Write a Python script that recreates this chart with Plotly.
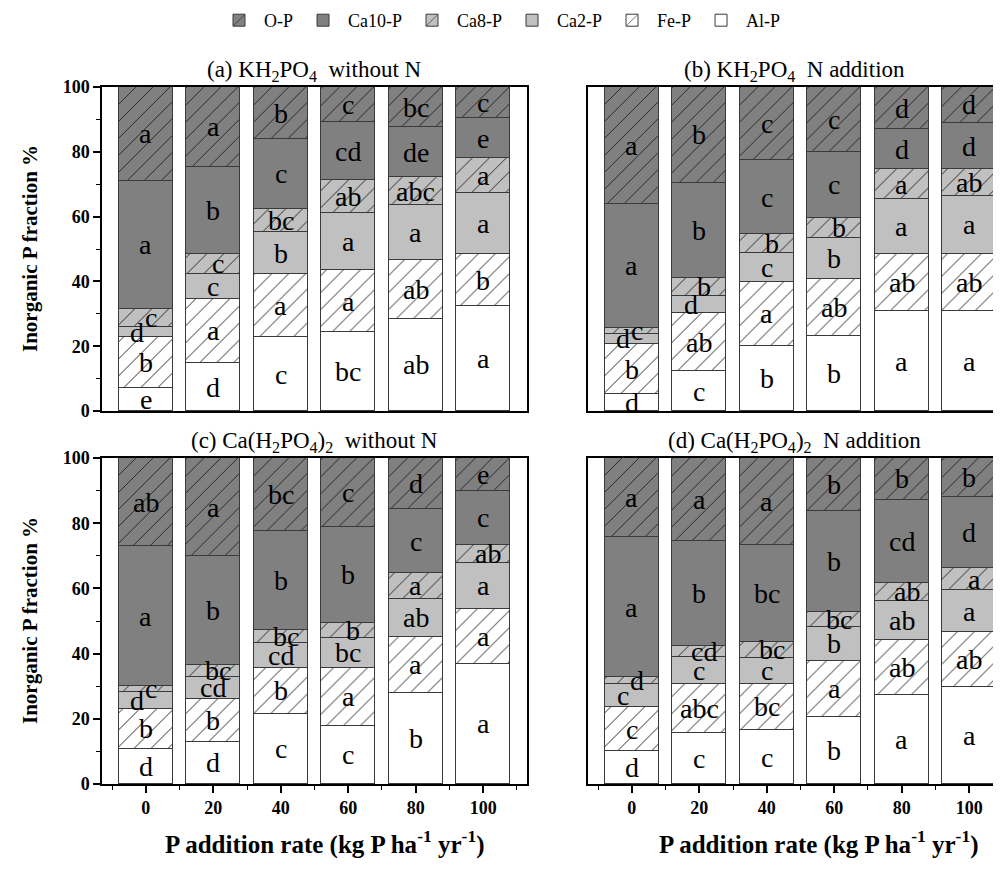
import plotly.graph_objects as go

# ---------------- data ----------------
rates = [0, 20, 40, 60, 80, 100]
fractions = ["Al-P", "Fe-P", "Ca2-P", "Ca8-P", "Ca10-P", "O-P"]  # bottom -> top

# (a) KH2PO4 without N  (segment heights, %)
A_AL = [7.0, 14.8, 22.8, 24.4, 28.5, 32.4]
A_FE = [15.8, 19.8, 19.4, 19.1, 18.1, 16.0]
A_CA2 = [3.1, 7.8, 12.9, 17.7, 16.9, 18.8]
A_CA8 = [5.7, 6.2, 7.4, 10.1, 8.7, 10.8]
A_CA10 = [39.5, 26.8, 21.4, 17.8, 15.4, 12.3]
A_O = [28.9, 24.6, 16.1, 10.9, 12.4, 9.7]
A_L_AL = ["e", "d", "c", "bc", "ab", "a"]
A_L_FE = ["b", "a", "a", "a", "ab", "b"]
A_L_CA2 = ["d", "c", "b", "a", "a", "a"]
A_L_CA8 = ["c", "c", "bc", "ab", "abc", "a"]
A_L_CA10 = ["a", "b", "c", "cd", "de", "e"]
A_L_O = ["a", "a", "b", "c", "bc", "c"]

# (b) KH2PO4 N addition
B_AL = [5.1, 12.3, 20.2, 23.2, 30.8, 30.8]
B_FE = [15.6, 17.9, 19.5, 17.4, 17.8, 17.8]
B_CA2 = [3.1, 5.3, 9.1, 12.7, 16.7, 17.9]
B_CA8 = [1.8, 5.7, 5.7, 6.4, 9.4, 8.1]
B_CA10 = [38.4, 29.2, 23.1, 20.3, 12.3, 14.3]
B_O = [36.0, 29.6, 22.4, 20.0, 13.0, 11.1]
B_L_AL = ["d", "c", "b", "b", "a", "a"]
B_L_FE = ["b", "ab", "a", "ab", "ab", "ab"]
B_L_CA2 = ["d", "d", "c", "b", "a", "a"]
B_L_CA8 = ["c", "b", "b", "b", "a", "ab"]
B_L_CA10 = ["a", "b", "c", "c", "d", "d"]
B_L_O = ["a", "b", "c", "c", "d", "d"]

# (c) Ca(H2PO4)2 without N
C_AL = [10.8, 13.0, 21.5, 17.9, 27.9, 36.9]
C_FE = [12.3, 13.2, 14.2, 17.8, 17.3, 16.9]
C_CA2 = [5.2, 6.6, 7.7, 9.2, 11.7, 14.0]
C_CA8 = [1.8, 3.8, 3.9, 4.6, 7.7, 5.6]
C_CA10 = [42.8, 33.2, 30.2, 29.3, 19.7, 16.5]
C_O = [27.1, 30.2, 22.5, 21.2, 15.7, 10.1]
C_L_AL = ["d", "d", "c", "c", "b", "a"]
C_L_FE = ["b", "b", "b", "a", "a", "a"]
C_L_CA2 = ["d", "cd", "cd", "bc", "ab", "a"]
C_L_CA8 = ["c", "bc", "bc", "b", "a", "ab"]
C_L_CA10 = ["a", "b", "b", "b", "c", "c"]
C_L_O = ["ab", "a", "bc", "c", "d", "e"]

# (d) Ca(H2PO4)2 N addition
D_AL = [10.1, 15.7, 16.5, 20.6, 27.3, 29.8]
D_FE = [13.5, 15.1, 14.3, 17.1, 16.8, 16.7]
D_CA2 = [7.1, 8.3, 8.0, 10.6, 12.1, 13.0]
D_CA8 = [2.0, 3.3, 4.9, 4.5, 5.4, 6.7]
D_CA10 = [43.1, 32.0, 29.7, 31.0, 25.6, 21.7]
D_O = [24.2, 25.6, 26.6, 16.2, 12.8, 12.1]
D_L_AL = ["d", "c", "c", "b", "a", "a"]
D_L_FE = ["c", "abc", "bc", "a", "ab", "ab"]
D_L_CA2 = ["c", "c", "c", "b", "ab", "a"]
D_L_CA8 = ["d", "cd", "bc", "bc", "ab", "a"]
D_L_CA10 = ["a", "b", "bc", "b", "cd", "d"]
D_L_O = ["a", "a", "a", "b", "b", "b"]

panel_titles = [
    "(a) KH<sub>2</sub>PO<sub>4</sub>  without N",
    "(b) KH<sub>2</sub>PO<sub>4</sub>  N addition",
    "(c) Ca(H<sub>2</sub>PO<sub>4</sub>)<sub>2</sub>  without N",
    "(d) Ca(H<sub>2</sub>PO<sub>4</sub>)<sub>2</sub>  N addition",
]
y_title = "Inorganic P fraction %"
x_title = "P addition rate (kg P ha<sup>-1</sup> yr<sup>-1</sup>)"

panels = [
    ([A_AL, A_FE, A_CA2, A_CA8, A_CA10, A_O], [A_L_AL, A_L_FE, A_L_CA2, A_L_CA8, A_L_CA10, A_L_O]),
    ([B_AL, B_FE, B_CA2, B_CA8, B_CA10, B_O], [B_L_AL, B_L_FE, B_L_CA2, B_L_CA8, B_L_CA10, B_L_O]),
    ([C_AL, C_FE, C_CA2, C_CA8, C_CA10, C_O], [C_L_AL, C_L_FE, C_L_CA2, C_L_CA8, C_L_CA10, C_L_O]),
    ([D_AL, D_FE, D_CA2, D_CA8, D_CA10, D_O], [D_L_AL, D_L_FE, D_L_CA2, D_L_CA8, D_L_CA10, D_L_O]),
]

# ---------------- layout geometry ----------------
PAGE_W, PAGE_H = 1001, 876
OFF = 8                      # default body margin of the page
W, H = PAGE_W - 2 * OFF, PAGE_H - 2 * OFF


def px(x):   # page x -> paper fraction
    return (x - OFF) / W


def py(y):   # page y -> paper fraction
    return 1 - (y - OFF) / H


SERIF = "Liberation Serif"
DARK = "#808080"
LIGHT = "#c0c0c0"
styles = {
    "Al-P": dict(bg="white", hatch=False),
    "Fe-P": dict(bg="white", hatch=True),
    "Ca2-P": dict(bg=LIGHT, hatch=False),
    "Ca8-P": dict(bg=LIGHT, hatch=True),
    "Ca10-P": dict(bg=DARK, hatch=False),
    "O-P": dict(bg=DARK, hatch=True),
}

# panel boxes in page pixels (left, right, top, bottom)
boxes = [(102, 527, 87, 411), (588, 1001, 87, 411), (102, 527, 458, 784), (588, 1001, 458, 784)]
UNIT = (527 - 102) / 126.0   # px per x unit
xranges = []
for (l, r, t, b) in boxes:
    rr = min(r, PAGE_W - OFF)
    xranges.append([-13, -13 + (rr - l) / UNIT])

fig = go.Figure()

for p, (vals, labels) in enumerate(panels):
    xa = "x" if p == 0 else f"x{p+1}"
    ya = "y" if p == 0 else f"y{p+1}"
    for f, name in enumerate(fractions):
        st = styles[name]
        marker = dict(color=st["bg"], line=dict(color="#3a3a3a", width=1))
        if st["hatch"]:
            marker["pattern"] = dict(shape="/", fgcolor="#262626", bgcolor=st["bg"],
                                     size=12, solidity=0.08, fillmode="replace")
        fig.add_trace(go.Bar(
            x=rates, y=vals[f], name=name, width=16, marker=marker,
            xaxis=xa, yaxis=ya, legendgroup=name, showlegend=(p == 0),
            hoverinfo="skip",
        ))
    # significance letters
    for i, r in enumerate(rates):
        base = 0.0
        for f, name in enumerate(fractions):
            h = vals[f][i]
            dx = 0.0
            if name == "Ca2-P" and (vals[3][i] < 3 or h < 6):
                dx = -2.6
            if name == "Ca8-P" and h < 7:
                dx = 1.5
            fig.add_annotation(
                x=r + dx, y=base + h / 2, xref=xa, yref=ya, text=labels[f][i],
                showarrow=False, font=dict(family=SERIF, size=28, color="black"),
                xanchor="center", yanchor="middle",
            )
            base += h

axis_common = dict(showgrid=False, zeroline=False, showline=True, linecolor="black",
                   linewidth=1.5, mirror=True, automargin=False)
for p in range(4):
    l, r, t, b = boxes[p]
    xkey = "xaxis" if p == 0 else f"xaxis{p+1}"
    ykey = "yaxis" if p == 0 else f"yaxis{p+1}"
    bottom_row = p >= 2
    left_col = p % 2 == 0
    fig.update_layout({
        xkey: dict(axis_common, domain=[px(l), min(px(r), 1)], range=xranges[p],
                   anchor="y" if p == 0 else f"y{p+1}",
                   tickvals=rates, ticktext=[str(v) for v in rates],
                   ticks="outside" if bottom_row else "", ticklen=7, tickwidth=1.5,
                   tickcolor="black",
                   showticklabels=bottom_row,
                   tickfont=dict(family=SERIF, size=18, color="black", weight="bold"),
                   minor=dict(ticks="outside" if bottom_row else "", ticklen=4, tickwidth=1.2,
                              tickcolor="black",
                              tickvals=[-10, 10, 30, 50, 70, 90, 110]),
                   fixedrange=True),
        ykey: dict(axis_common, domain=[py(b), py(t)], range=[0, 100],
                   anchor="x" if p == 0 else f"x{p+1}",
                   tickvals=[0, 20, 40, 60, 80, 100],
                   ticks="outside" if left_col else "", ticklen=7, tickwidth=1.5,
                   tickcolor="black",
                   showticklabels=left_col,
                   tickfont=dict(family=SERIF, size=18, color="black", weight="bold"),
                   minor=dict(ticks="outside" if left_col else "", ticklen=4, tickwidth=1.2,
                              tickcolor="black",
                              tickvals=[10, 30, 50, 70, 90]),
                   fixedrange=True),
    })
    # panel title
    fig.add_annotation(x=px((l + min(r, 1012)) / 2), y=py(t - 16), xref="paper", yref="paper",
                       text=panel_titles[p], showarrow=False,
                       font=dict(family=SERIF, size=23, color="black"),
                       xanchor="center", yanchor="middle")

# y axis titles
for (t, b) in [(87, 411), (458, 784)]:
    fig.add_annotation(x=px(30), y=py((t + b) / 2), xref="paper", yref="paper",
                       text=y_title, textangle=-90, showarrow=False,
                       font=dict(family=SERIF, size=21, color="black", weight="bold"),
                       xanchor="center", yanchor="middle")
# x axis titles
for cx in [324, 818]:
    fig.add_annotation(x=px(cx), y=py(842), xref="paper", yref="paper",
                       text=x_title, showarrow=False,
                       font=dict(family=SERIF, size=25, color="black", weight="bold"),
                       xanchor="center", yanchor="middle")

fig.update_layout(
    template="none",
    width=W, height=H, barmode="stack", bargap=0,
    margin=dict(l=0, r=0, t=0, b=0, autoexpand=False),
    paper_bgcolor="white", plot_bgcolor="white",
    legend=dict(orientation="h", x=px(500), xanchor="center", y=1 + 6 / H, yanchor="top",
                traceorder="reversed", font=dict(family=SERIF, size=18, color="black"),
                itemwidth=40, bgcolor="rgba(0,0,0,0)"),
    showlegend=True,
)

fig.write_html("out.html", config={"displayModeBar": False})
